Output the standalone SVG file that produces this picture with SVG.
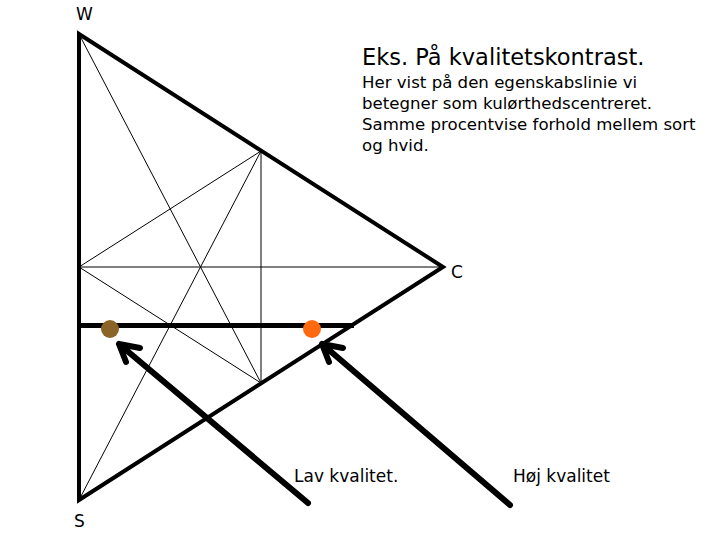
<svg xmlns="http://www.w3.org/2000/svg" width="720" height="540" viewBox="0 0 720 540">
<style>
.thick{stroke:#000;stroke-width:4;fill:none;stroke-linecap:round;stroke-linejoin:miter}
.thin{stroke:#000;stroke-width:1;fill:none}
.arrow{stroke:#000;stroke-width:6;fill:none;stroke-linecap:round;stroke-linejoin:round}
text{font-family:"DejaVu Sans","Liberation Sans",sans-serif;fill:#000}
.lbl{font-size:17px}
</style>
<rect width="720" height="540" fill="#fff"/>
<g id="construction">
<line class="thin" x1="79" y1="34" x2="261" y2="383"/>
<line class="thin" x1="79" y1="500" x2="261" y2="151"/>
<line class="thin" x1="79" y1="267" x2="443" y2="267"/>
<line class="thin" x1="79" y1="267" x2="261" y2="151"/>
<line class="thin" x1="79" y1="267" x2="261" y2="383"/>
<line class="thin" x1="261" y1="151" x2="261" y2="383"/>
</g>
<g id="triangle">
<polygon class="thick" points="79,34 443,267 79,500"/>
</g>
<g id="line-level">
<line x1="79" y1="325.5" x2="354" y2="325.5" stroke="#000" stroke-width="5"/>
</g>
<g id="dot-low"><circle cx="110" cy="329" r="9" fill="#8b6428"/></g>
<g id="dot-high"><circle cx="312" cy="329" r="9" fill="#ff6a10"/></g>
<g id="connectors">
<path class="arrow" d="M308,503 L119,344 M140,348 L119,344 L126,362"/>
<path class="arrow" d="M510,505 L322,344 M343,348 L322,344 L329,362"/>
</g>
<g id="label-W"><text class="lbl" x="76" y="20">W</text></g>
<g id="label-C"><text class="lbl" x="451" y="278">C</text></g>
<g id="label-S"><text class="lbl" x="74" y="527">S</text></g>
<g id="title">
<text x="362" y="65" font-size="22.5">Eks. På kvalitetskontrast.</text>
<text x="362" y="88" font-size="16.6">Her vist på den egenskabslinie vi</text>
<text x="362" y="109" font-size="16.6">betegner som kulørthedscentreret.</text>
<text x="362" y="130" font-size="16.6">Samme procentvise forhold mellem sort</text>
<text x="362" y="151" font-size="16.6">og hvid.</text>
</g>
<g id="label-low"><text class="lbl" x="294" y="482">Lav kvalitet.</text></g>
<g id="label-high"><text class="lbl" x="513" y="482">Høj kvalitet</text></g>
</svg>
